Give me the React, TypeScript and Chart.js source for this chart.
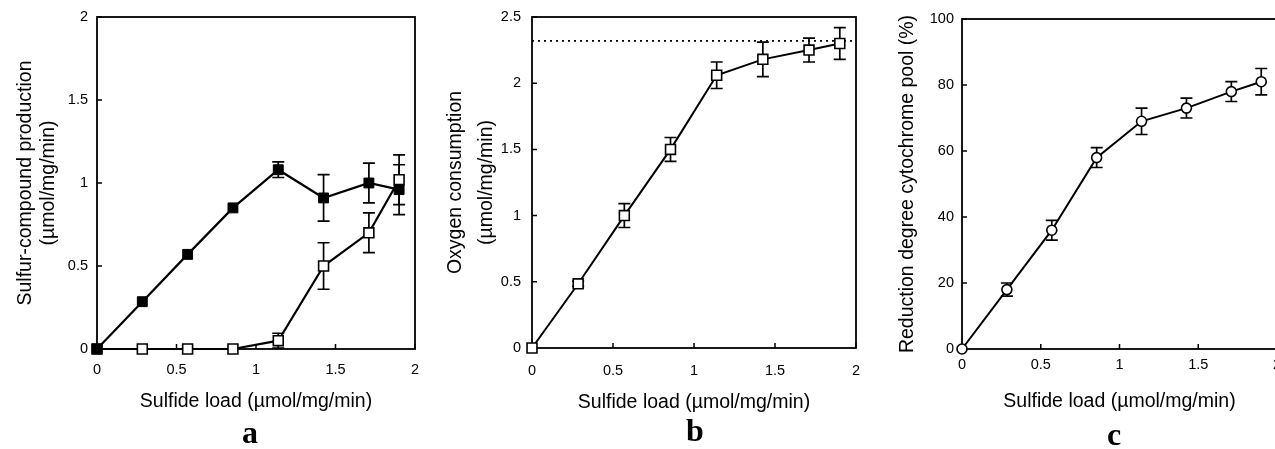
import React, { useEffect, useRef } from 'react';
import { Chart, registerables } from 'chart.js';

Chart.register(...registerables);

// ---------- data ----------
const sulfideLoad = [0, 0.285, 0.57, 0.855, 1.14, 1.425, 1.71, 1.9];
const xTicksMin = 0;
const xTicksMax = 2;
const xTickStep = 0.5;

const sulfurFilled = [0, 0.285, 0.57, 0.85, 1.08, 0.91, 1.0, 0.96];
const sulfurFilledErr = [0, 0, 0, 0, 0.047, 0.14, 0.12, 0.15];
const sulfurOpen = [0, 0, 0, 0, 0.05, 0.5, 0.7, 1.02];
const sulfurOpenErr = [0, 0, 0, 0, 0.045, 0.14, 0.12, 0.15];

const oxygen = [0, 0.485, 1.0, 1.5, 2.06, 2.18, 2.25, 2.3];
const oxygenErr = [0, 0.02, 0.09, 0.09, 0.1, 0.13, 0.09, 0.12];
const oxygenMax = 2.32;

const cytochrome = [0, 18, 36, 58, 69, 73, 78, 81];
const cytochromeErr = [0, 2, 3, 3, 4, 3, 3, 4];

const xTitle = 'Sulfide load (\u00b5mol/mg/min)';
const panelLetters = ['a', 'b', 'c'];

// ---------- plugins ----------
const errorBarPlugin = {
  id: 'errorBars',
  beforeDatasetsDraw(chart: any) {
    const ctx = chart.ctx;
    const ys = chart.scales.y;
    chart.data.datasets.forEach((ds: any, i: number) => {
      const errs = ds.errors;
      if (!errs) return;
      const meta = chart.getDatasetMeta(i);
      ctx.save();
      ctx.strokeStyle = '#000';
      ctx.lineWidth = ds.errorLineWidth || 1.7;
      const cap = ds.errorCap || 6;
      meta.data.forEach((pt: any, j: number) => {
        const e = errs[j];
        if (!e) return;
        const v = ds.data[j].y;
        const top = ys.getPixelForValue(v + e);
        const bot = ys.getPixelForValue(v - e);
        ctx.beginPath();
        ctx.moveTo(pt.x, top);
        ctx.lineTo(pt.x, bot);
        ctx.moveTo(pt.x - cap, top);
        ctx.lineTo(pt.x + cap, top);
        ctx.moveTo(pt.x - cap, bot);
        ctx.lineTo(pt.x + cap, bot);
        ctx.stroke();
      });
      ctx.restore();
    });
  },
};

const framePlugin = {
  id: 'frameTicks',
  beforeDatasetsDraw(chart: any) {
    const { ctx, chartArea } = chart;
    const { left, right, top, bottom } = chartArea;
    ctx.save();
    ctx.strokeStyle = '#000';
    ctx.lineWidth = 1.8;
    ctx.strokeRect(left, top, right - left, bottom - top);
    ctx.lineWidth = 1.5;
    const xs = chart.scales.x;
    const ys = chart.scales.y;
    ctx.beginPath();
    xs.ticks.forEach((t: any) => {
      const px = xs.getPixelForValue(t.value);
      ctx.moveTo(px, bottom);
      ctx.lineTo(px, bottom - 5);
    });
    ys.ticks.forEach((t: any) => {
      const py = ys.getPixelForValue(t.value);
      ctx.moveTo(left, py);
      ctx.lineTo(left + 5, py);
    });
    ctx.stroke();
    ctx.restore();
  },
};

const FONT = '"Liberation Sans", Arial, Helvetica, sans-serif';
const fmt = (v: any) => String(Number(v));

type PanelCfg = {
  left: number;
  width: number;
  padTop: number;
  padRight: number;
  yWidth: number;
  xHeight: number;
  yMax: number;
  yStep: number;
  yTitle: string | string[];
  yTitlePad: number;
  yTitleLH: number;
  yTickPad: number;
  xTickPad: number;
  xTitlePad: number;
  datasets: any[];
};

function Panel({ cfg }: { cfg: PanelCfg }) {
  const ref = useRef<HTMLCanvasElement | null>(null);
  useEffect(() => {
    if (!ref.current) return;
    const chart = new Chart(ref.current, {
      type: 'line',
      data: { datasets: cfg.datasets },
      options: {
        animation: false,
        responsive: true,
        maintainAspectRatio: false,
        layout: { padding: { top: cfg.padTop, right: cfg.padRight, left: 0, bottom: 0 } },
        plugins: { legend: { display: false }, tooltip: { enabled: false } },
        scales: {
          x: {
            type: 'linear',
            min: xTicksMin,
            max: xTicksMax,
            grid: { display: false, drawTicks: false },
            border: { display: false },
            ticks: {
              stepSize: xTickStep,
              color: '#000',
              font: { size: 14.5, family: FONT },
              padding: cfg.xTickPad,
              callback: fmt,
            },
            title: {
              display: true,
              text: xTitle,
              color: '#000',
              font: { size: 19.5, family: FONT },
              padding: { top: 0, bottom: cfg.xTitlePad },
            },
            afterFit: (s: any) => {
              s.height = cfg.xHeight;
              s.paddingLeft = 0;
              s.paddingRight = 0;
            },
          },
          y: {
            type: 'linear',
            min: 0,
            max: cfg.yMax,
            grid: { display: false, drawTicks: false },
            border: { display: false },
            ticks: {
              stepSize: cfg.yStep,
              color: '#000',
              font: { size: 14.5, family: FONT },
              padding: cfg.yTickPad,
              callback: fmt,
            },
            title: {
              display: true,
              text: cfg.yTitle,
              color: '#000',
              font: { size: 19.5, family: FONT, lineHeight: cfg.yTitleLH },
              padding: { top: cfg.yTitlePad, bottom: 0 },
            },
            afterFit: (s: any) => {
              s.width = cfg.yWidth;
              s.paddingTop = 0;
              s.paddingBottom = 0;
            },
          },
        },
      } as any,
      plugins: [framePlugin, errorBarPlugin],
    });
    return () => chart.destroy();
  }, []);
  return (
    <div style={{ position: 'absolute', left: cfg.left, top: 0, width: cfg.width, height: 449 }}>
      <canvas ref={ref} />
    </div>
  );
}

const pts = (ys: number[]) => sulfideLoad.map((x, i) => ({ x, y: ys[i] }));

const base = {
  borderColor: '#000',
  tension: 0,
  clip: false,
  pointBorderColor: '#000',
  showLine: true,
};

const panelA: PanelCfg = {
  left: 0,
  width: 425,
  padTop: 17,
  padRight: 10,
  yWidth: 97,
  xHeight: 100,
  yMax: 2,
  yStep: 0.5,
  yTitle: ['Sulfur-compound production', '(\u00b5mol/mg/min)'],
  yTitlePad: 14,
  yTitleLH: 1.2,
  yTickPad: 9,
  xTickPad: 12,
  xTitlePad: 36,
  datasets: [
    {
      ...base,
      data: pts(sulfurFilled),
      errors: sulfurFilledErr,
      borderWidth: 2.2,
      pointStyle: 'rect',
      pointRadius: 7,
      pointBackgroundColor: '#000',
      pointBorderWidth: 1,
    },
    {
      ...base,
      data: pts(sulfurOpen),
      errors: sulfurOpenErr,
      borderWidth: 2.2,
      pointStyle: 'rect',
      pointRadius: 7,
      pointBackgroundColor: '#fff',
      pointBorderWidth: 1.6,
    },
  ],
};

const panelB: PanelCfg = {
  left: 425,
  width: 445,
  padTop: 17,
  padRight: 14,
  yWidth: 107,
  xHeight: 101,
  yMax: 2.5,
  yStep: 0.5,
  yTitle: ['Oxygen consumption', '(\u00b5mol/mg/min)'],
  yTitlePad: 15,
  yTitleLH: 1.58,
  yTickPad: 11,
  xTickPad: 14,
  xTitlePad: 35,
  datasets: [
    {
      ...base,
      data: pts(oxygen),
      errors: oxygenErr,
      borderWidth: 2,
      pointStyle: 'rect',
      pointRadius: 7,
      pointBackgroundColor: '#fff',
      pointBorderWidth: 1.6,
    },
    {
      ...base,
      data: [
        { x: xTicksMin, y: oxygenMax },
        { x: xTicksMax, y: oxygenMax },
      ],
      borderWidth: 1.6,
      borderDash: [2, 4],
      pointRadius: 0,
    },
  ],
};

const panelC: PanelCfg = {
  left: 850,
  width: 440,
  padTop: 19,
  padRight: 13,
  yWidth: 112,
  xHeight: 100,
  yMax: 100,
  yStep: 20,
  yTitle: 'Reduction degree cytochrome pool (%)',
  yTitlePad: 46,
  yTitleLH: 1.2,
  yTickPad: 8,
  xTickPad: 7,
  xTitlePad: 36,
  datasets: [
    {
      ...base,
      data: pts(cytochrome),
      errors: cytochromeErr,
      borderWidth: 2,
      pointStyle: 'circle',
      pointRadius: 5,
      pointBackgroundColor: '#fff',
      pointBorderWidth: 1.6,
    },
  ],
};

const letterPos = [
  { x: 250, top: 415 },
  { x: 695, top: 413 },
  { x: 1114, top: 417 },
];

export default function App() {
  return (
    <div
      style={{
        position: 'fixed',
        left: 0,
        top: 0,
        width: 1275,
        height: 449,
        overflow: 'hidden',
        background: '#fff',
      }}
    >
      <Panel cfg={panelA} />
      <Panel cfg={panelB} />
      <Panel cfg={panelC} />
      {panelLetters.map((l, i) => (
        <div
          key={l}
          style={{
            position: 'absolute',
            left: letterPos[i].x - 30,
            top: letterPos[i].top,
            width: 60,
            textAlign: 'center',
            font: 'bold 32px "Liberation Serif", "Times New Roman", serif',
            lineHeight: '34px',
            color: '#000',
          }}
        >
          {l}
        </div>
      ))}
    </div>
  );
}
